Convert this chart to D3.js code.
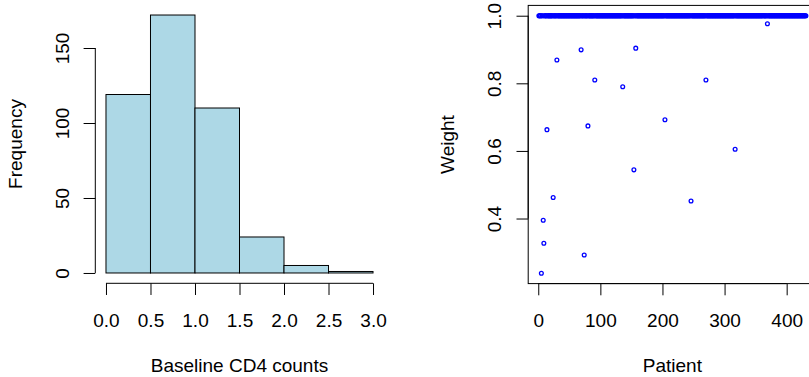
<!DOCTYPE html>
<html>
<head>
<meta charset="utf-8">
<script src="https://cdn.jsdelivr.net/npm/d3@7"></script>
<style>
  html, body { margin: 0; padding: 0; background: #fff; }
  svg { display: block; }
  text { font-family: "Liberation Sans", Arial, Helvetica, sans-serif; font-size: 19px; fill: #000; }
</style>
</head>
<body>
<svg id="chart" width="809" height="377"></svg>
<script>
// histogram of baseline CD4 counts
const binEdges = [0, 0.5, 1.0, 1.5, 2.0, 2.5, 3.0];
const binCounts = [119, 172, 110, 24, 5, 1];
const histXTicks = [0, 0.5, 1.0, 1.5, 2.0, 2.5, 3.0];
const histYTicks = [0, 50, 100, 150];

// weights per patient, everyone is 1 except these
const nPatients = 431;
const lowPatient = [5, 8, 9, 14, 24, 30, 69, 74, 80, 91, 136, 154, 157, 204, 246, 270, 317, 369];
const lowWeight = [0.238, 0.395, 0.327, 0.663, 0.462, 0.869, 0.899, 0.292, 0.674, 0.810, 0.790, 0.544, 0.904, 0.692, 0.452, 0.810, 0.605, 0.976];
const scatXTicks = [0, 100, 200, 300, 400];
const scatYTicks = [0.4, 0.6, 0.8, 1.0];

const patients = d3.range(1, nPatients + 1).map(p => {
  const i = lowPatient.indexOf(p);
  return { patient: p, weight: i >= 0 ? lowWeight[i] : 1 };
});

const svg = d3.select('#chart');
const tickLen = 11.7;

// R-style axis: line from first to last tick, rotated labels on the y axis
function rAxisBottom(g, scale, ticks, fmt) {
  g.call(d3.axisBottom(scale).tickValues(ticks).tickFormat(fmt).tickSize(tickLen).tickPadding(0));
  g.select('.domain').remove();
  g.selectAll('.tick line').attr('stroke', '#000');
  g.selectAll('.tick text').attr('y', 43.7).attr('dy', null);
  g.append('line')
    .attr('x1', scale(ticks[0])).attr('x2', scale(ticks[ticks.length - 1]))
    .attr('stroke', '#000');
}

function rAxisLeft(g, scale, ticks, fmt) {
  g.call(d3.axisLeft(scale).tickValues(ticks).tickFormat(fmt).tickSize(tickLen).tickPadding(0));
  g.select('.domain').remove();
  g.selectAll('.tick line').attr('stroke', '#000');
  g.selectAll('.tick text')
    .attr('x', null).attr('dy', null)
    .attr('text-anchor', 'middle')
    .attr('transform', 'translate(-26.8,0) rotate(-90)');
  g.append('line')
    .attr('y1', scale(ticks[0])).attr('y2', scale(ticks[ticks.length - 1]))
    .attr('stroke', '#000');
}

// ---- left panel: histogram
const hx = d3.scaleLinear().domain([-0.12, 3.12]).range([95.3, 383.7]);
const hy = d3.scaleLinear().domain([-6.88, 178.88]).range([283.3, 4.7]);

svg.append('g').selectAll('rect')
  .data(binCounts)
  .enter()
  .append('rect')
  .attr('x', (d, i) => hx(binEdges[i]))
  .attr('width', (d, i) => hx(binEdges[i + 1]) - hx(binEdges[i]))
  .attr('y', d => hy(d))
  .attr('height', d => hy(0) - hy(d))
  .attr('fill', '#ADD8E6')
  .attr('stroke', '#000')
  .attr('stroke-width', 1);

svg.append('g').attr('transform', 'translate(0,283.3)')
  .call(g => rAxisBottom(g, hx, histXTicks, d3.format('.1f')));
svg.append('g').attr('transform', 'translate(95.3,0)')
  .call(g => rAxisLeft(g, hy, histYTicks, d3.format('d')));

svg.append('text')
  .attr('x', (95.3 + 383.7) / 2).attr('y', 371.5)
  .attr('text-anchor', 'middle')
  .text('Baseline CD4 counts');
svg.append('text')
  .attr('transform', `translate(21.5,${(4.7 + 283.3) / 2}) rotate(-90)`)
  .attr('text-anchor', 'middle')
  .text('Frequency');

// ---- right panel: weights by patient
const sx = d3.scaleLinear().domain([-16.2, 448.2]).range([528.2, 816.6]);
const sy = d3.scaleLinear().domain([0.2075, 1.0305]).range([283.6, 5.4]);

svg.append('rect')
  .attr('x', sx(-16.2)).attr('y', sy(1.0305))
  .attr('width', sx(448.2) - sx(-16.2)).attr('height', sy(0.2075) - sy(1.0305))
  .attr('fill', 'none').attr('stroke', '#000');

svg.append('g').selectAll('circle')
  .data(patients)
  .enter()
  .append('circle')
  .attr('cx', d => sx(d.patient))
  .attr('cy', d => sy(d.weight))
  .attr('r', 1.9)
  .attr('fill', 'none')
  .attr('stroke', '#0000FF')
  .attr('stroke-width', 1.3);

svg.append('g').attr('transform', `translate(0,${sy(0.2075)})`)
  .call(g => rAxisBottom(g, sx, scatXTicks, d3.format('d')));
svg.append('g').attr('transform', `translate(${sx(-16.2)},0)`)
  .call(g => rAxisLeft(g, sy, scatYTicks, d3.format('.1f')));

svg.append('text')
  .attr('x', (sx(-16.2) + sx(448.2)) / 2).attr('y', 371.5)
  .attr('text-anchor', 'middle')
  .text('Patient');
svg.append('text')
  .attr('transform', `translate(${sx(-16.2) - 74.5},${(5.4 + 283.6) / 2}) rotate(-90)`)
  .attr('text-anchor', 'middle')
  .text('Weight');
</script>
</body>
</html>
